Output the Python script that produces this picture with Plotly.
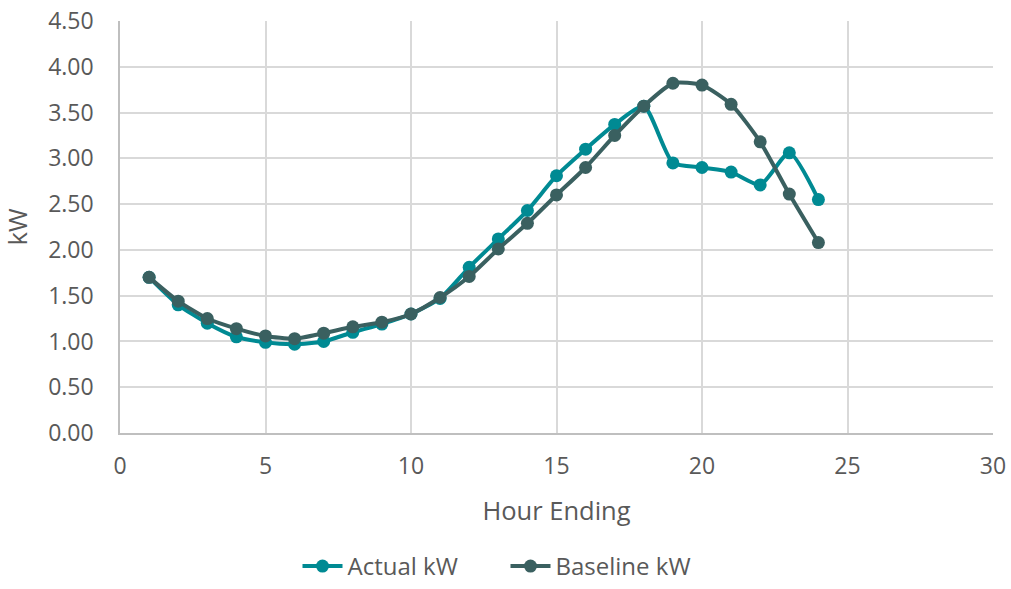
import plotly.graph_objects as go

hours = list(range(1, 25))
actual_kw = [1.70, 1.40, 1.20, 1.05, 0.99, 0.97, 1.00, 1.10, 1.19, 1.30, 1.47, 1.81,
             2.12, 2.43, 2.81, 3.10, 3.37, 3.57, 2.95, 2.90, 2.85, 2.71, 3.06, 2.55]
baseline_kw = [1.70, 1.44, 1.25, 1.14, 1.06, 1.03, 1.09, 1.16, 1.21, 1.30, 1.48, 1.71,
               2.01, 2.29, 2.60, 2.90, 3.25, 3.57, 3.82, 3.80, 3.59, 3.18, 2.61, 2.08]

font_family = "Open Sans"
text_color = "#595959"

fig = go.Figure()
fig.add_trace(go.Scatter(
    x=hours, y=actual_kw, name="Actual kW", mode="lines+markers",
    line=dict(color="#008A93", width=4, shape="spline", smoothing=0.6),
    marker=dict(size=13, color="#008A93"),
))
fig.add_trace(go.Scatter(
    x=hours, y=baseline_kw, name="Baseline kW", mode="lines+markers",
    line=dict(color="#3A6060", width=4, shape="spline", smoothing=0.6),
    marker=dict(size=13, color="#3A6060"),
))

fig.update_layout(
    width=1011, height=589,
    margin=dict(l=120, r=18, t=21, b=156, autoexpand=False),
    paper_bgcolor="white", plot_bgcolor="white",
    font=dict(family=font_family, color=text_color, size=23),
    showlegend=True,
    legend=dict(orientation="h", x=0.5, xanchor="center", xref="container",
                y=0.0, yanchor="bottom", yref="container",
                font=dict(size=24, color=text_color), traceorder="normal",
                itemwidth=40, entrywidth=153),
    xaxis=dict(
        range=[0, 30], dtick=5, tick0=0, automargin=False,
        showgrid=True, gridcolor="#D9D9D9", gridwidth=1.5,
        showline=True, linecolor="#BFBFBF", linewidth=1.5,
        zeroline=False, ticks="", ticklabelstandoff=12,
        tickfont=dict(size=23, color=text_color),
        title=dict(text="Hour Ending", font=dict(size=25.5, color=text_color), standoff=22),
    ),
    yaxis=dict(
        range=[0, 4.5], dtick=0.5, tick0=0, tickformat=".2f", automargin=False,
        showgrid=True, gridcolor="#D9D9D9", gridwidth=1.5,
        showline=True, linecolor="#BFBFBF", linewidth=1.5,
        zeroline=False, ticks="", ticklabelstandoff=20,
        tickfont=dict(size=23, color=text_color),
        title=dict(text="kW", font=dict(size=25.5, color=text_color), standoff=14),
    ),
)

fig.write_html("out.html")
